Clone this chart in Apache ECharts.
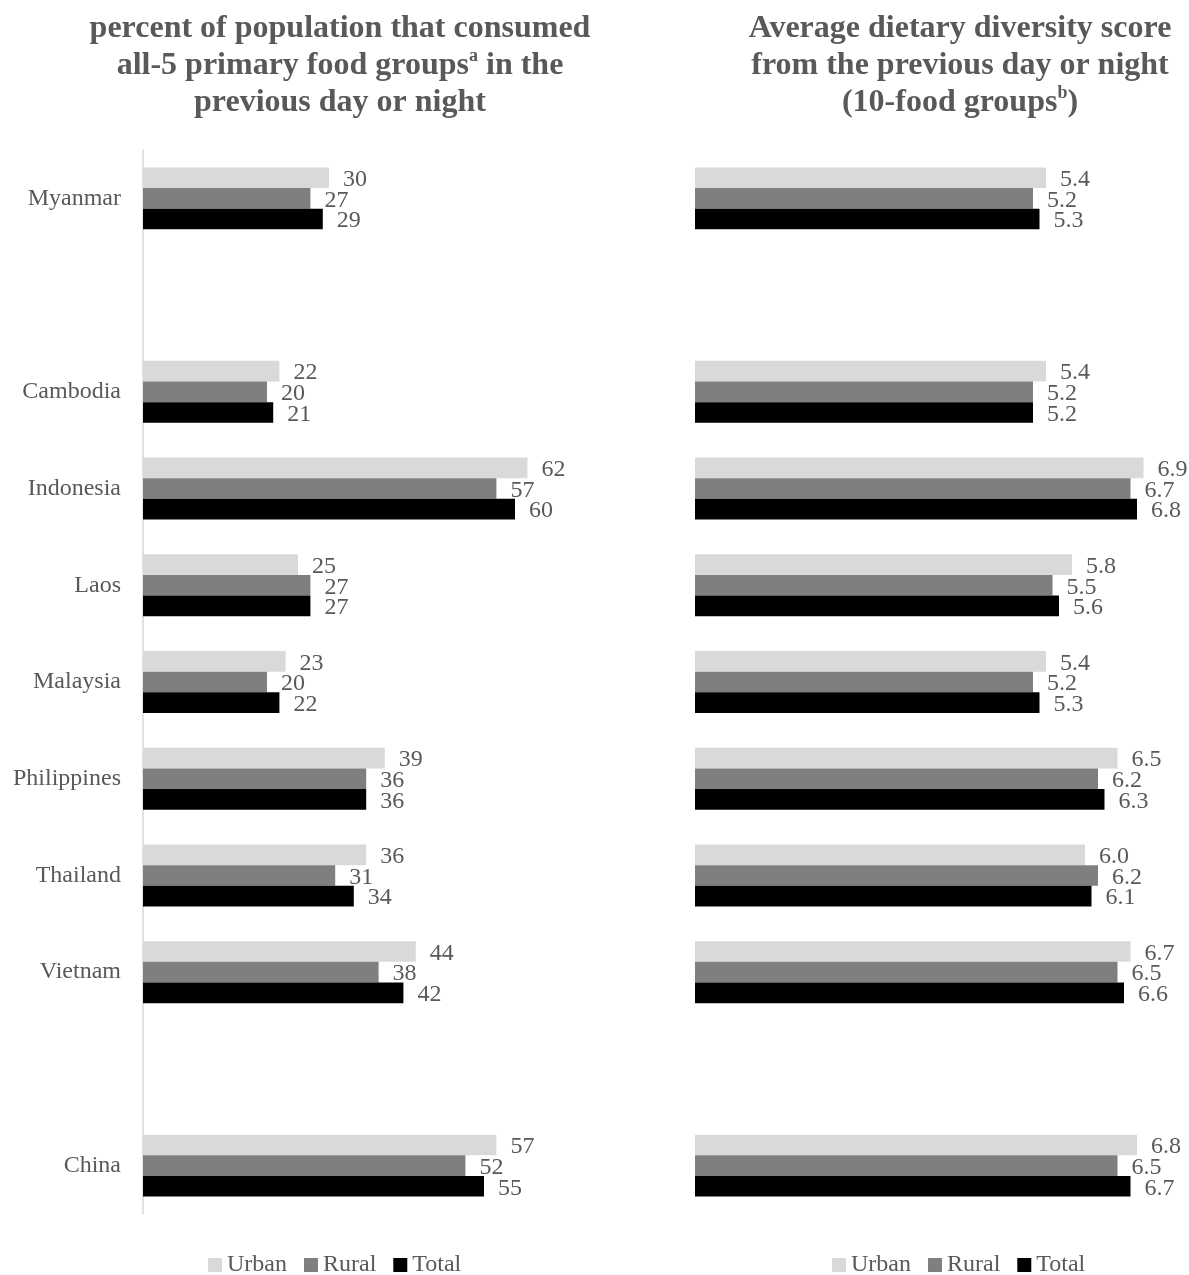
<!DOCTYPE html>
<html>
<head>
<meta charset="utf-8">
<script src="https://cdn.jsdelivr.net/npm/echarts@6/dist/echarts.min.js"></script>
<style>
html,body{margin:0;padding:0;background:#fff;}
#chart{width:1189px;height:1275px;}
</style>
</head>
<body>
<div id="chart"></div>
<script>
// ---- data ----
const countries = ['Myanmar','Cambodia','Indonesia','Laos','Malaysia','Philippines','Thailand','Vietnam','China'];
// display rows (blank rows are visual spacers)
const rows = ['Myanmar','','Cambodia','Indonesia','Laos','Malaysia','Philippines','Thailand','Vietnam',' ','China'];
const seriesNames = ['Urban','Rural','Total'];

// percent consuming all-5 primary food groups
const urbanPct = [30,22,62,25,23,39,36,44,57];
const ruralPct = [27,20,57,27,20,36,31,38,52];
const totalPct = [29,21,60,27,22,36,34,42,55];

// average dietary diversity score (10 food groups)
const urbanDDS = [5.4,5.4,6.9,5.8,5.4,6.5,6.0,6.7,6.8];
const ruralDDS = [5.2,5.2,6.7,5.5,5.2,6.2,6.2,6.5,6.5];
const totalDDS = [5.3,5.2,6.8,5.6,5.3,6.3,6.1,6.6,6.7];

// ---- styling ----
const FONT = "'Liberation Serif','Times New Roman',serif";
const TXT = '#595959';
const COLORS = ['#d9d9d9','#7f7f7f','#000000'];

function pad(vals){
  return rows.map(r => { const i = countries.indexOf(r); return i < 0 ? null : vals[i]; });
}

const chart = echarts.init(document.getElementById('chart'), null, {renderer:'canvas'});

const titleRich = {
  t:{fontFamily:FONT,fontSize:32,fontWeight:'bold',color:TXT,lineHeight:37,align:'center'},
  sup:{fontFamily:FONT,fontSize:18,fontWeight:'bold',color:TXT,lineHeight:24,verticalAlign:'top',align:'center'}
};

function mkSeries(name, vals, idx, colorIdx, dec){
  return {
    name: name, type:'bar', xAxisIndex: idx, yAxisIndex: idx,
    data: pad(vals),
    barGap:'0%', barCategoryGap:'36%',
    itemStyle:{color:COLORS[colorIdx]},
    label:{show:true, position:'right', distance:14, offset:[0,2], color:TXT, fontFamily:FONT, fontSize:24,
      formatter: p => dec ? Number(p.value).toFixed(1) : String(p.value)},
    emphasis:{disabled:true},
    animation:false
  };
}

const legendBase = {
  icon:'rect', itemWidth:14, itemHeight:14, itemGap:17, padding:0,
  textStyle:{fontFamily:FONT, fontSize:24, color:TXT},
  data: seriesNames, selectedMode:false
};

const option = {
  backgroundColor:'#ffffff',
  animation:false,
  title:[
    {left:335, top:5, textAlign:'center',
     text:'{t|percent of population that consumed}\n{t|all-5 primary food groups}{sup|a}{t| in the}\n{t|previous day or night}',
     textStyle:{rich:titleRich, lineHeight:37}},
    {left:955, top:5, textAlign:'center',
     text:'{t|Average dietary diversity score}\n{t|from the previous day or night}\n{t|(10-food groups}{sup|b}{t|)}',
     textStyle:{rich:titleRich, lineHeight:37}}
  ],
  legend:[
    Object.assign({left:208, top:1253}, legendBase),
    Object.assign({left:832, top:1253}, legendBase)
  ],
  grid:[
    {left:143, top:150, width:434, height:1064, containLabel:false},
    {left:695, top:150, width:455, height:1064, containLabel:false}
  ],
  xAxis:[
    {gridIndex:0, type:'value', min:0, max:70, show:false, splitLine:{show:false}},
    {gridIndex:1, type:'value', min:0, max:7, show:false, splitLine:{show:false}}
  ],
  yAxis:[
    {gridIndex:0, type:'category', data:rows, inverse:true,
     axisLine:{show:true, lineStyle:{color:'#d9d9d9', width:1.5}},
     axisTick:{show:false},
     axisLabel:{fontFamily:FONT, fontSize:24, color:TXT, margin:22}},
    {gridIndex:1, type:'category', data:rows, inverse:true,
     axisLine:{show:false}, axisTick:{show:false}, axisLabel:{show:false}}
  ],
  series:[
    mkSeries('Urban', urbanPct, 0, 0, false),
    mkSeries('Rural', ruralPct, 0, 1, false),
    mkSeries('Total', totalPct, 0, 2, false),
    mkSeries('Urban', urbanDDS, 1, 0, true),
    mkSeries('Rural', ruralDDS, 1, 1, true),
    mkSeries('Total', totalDDS, 1, 2, true)
  ]
};
chart.setOption(option);
</script>
</body>
</html>
